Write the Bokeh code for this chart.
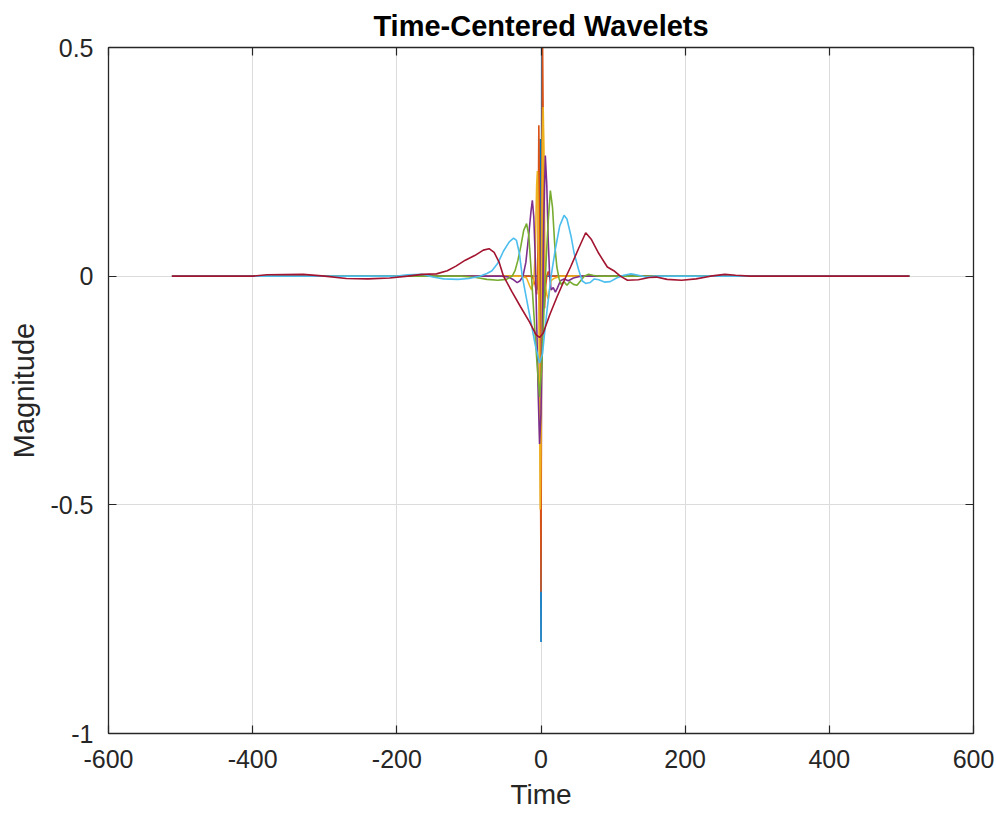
from bokeh.plotting import figure
from bokeh.models import Range1d, LinearAxis, FixedTicker
from bokeh.embed import file_html
from bokeh.resources import INLINE

# ---------------- data ----------------
title_text = "Time-Centered Wavelets"
x_label = "Time"
y_label = "Magnitude"

x_ticks = [-600, -400, -200, 0, 200, 400, 600]
x_tick_labels = ["-600", "-400", "-200", "0", "200", "400", "600"]
y_ticks = [-1, -0.5, 0, 0.5]
y_tick_labels = ["-1", "-0.5", "0", "0.5"]
x_limits = [-600, 600]
y_limits = [-1, 0.5]

# level 1 (finest) ... level 7 (coarsest)
lvl1_t = [-512, -5, -4, -3, -2, -1, 0, 1, 2, 3, 4, 511]
lvl1_v = [0, 0, -0.03, -0.01, 0.10, 0.30, -0.80, 0.50, 0.03, -0.08, 0, 0]

lvl2_t = [-512, -12, -10, -8, -6, -5, -4, -3, -2, -1, 0, 1, 2, 3, 4, 5, 6, 8, 10, 12, 511]
lvl2_v = [0, 0, -0.01, -0.02, -0.04, 0.0, 0.08, 0.33, 0.15, -0.30, -0.69, 0.0, 0.55,
          0.35, 0.05, -0.07, -0.03, 0.0, 0.01, 0, 0]

lvl3_t = [-512, -26, -20, -16, -13, -10, -8, -6, -5, -4, -3, -2, -1, 0, 1, 2, 3, 4, 5,
          6, 8, 10, 12, 14, 18, 26, 511]
lvl3_v = [0, 0, -0.004, -0.02, -0.03, -0.01, 0.05, 0.20, 0.23, 0.15, -0.05, -0.30,
          -0.51, -0.35, 0.0, 0.30, 0.37, 0.28, 0.10, -0.02, -0.04, -0.05, -0.03,
          -0.01, -0.005, 0, 0]

lvl4_t = [-512, -55, -45, -38, -33, -29, -25, -21, -17, -14, -12, -10, -8, -6, -4, -2,
          0, 2, 4, 6, 8, 10, 12, 14, 17, 20, 23, 27, 32, 38, 45, 55, 511]
lvl4_v = [0, 0, -0.002, -0.008, -0.014, -0.01, 0.0, 0.03, 0.09, 0.14, 0.166, 0.13,
          0.04, -0.10, -0.25, -0.367, -0.30, -0.10, 0.13, 0.264, 0.20, 0.08, 0.0,
          -0.03, -0.025, -0.035, -0.025, -0.01, -0.006, -0.01, -0.004, 0.0, 0]

lvl5_t = [-512, -110, -90, -75, -60, -48, -40, -36, -32, -28, -24, -20, -17, -14, -10,
          -6, -2, 1, 4, 7, 10, 13, 16, 19, 22, 25, 28, 32, 36, 40, 45, 50, 55, 60,
          66, 72, 80, 511]
lvl5_v = [0, 0, -0.003, -0.007, -0.009, -0.007, 0.0, 0.012, 0.035, 0.065, 0.10, 0.115,
          0.09, 0.02, -0.08, -0.18, -0.264, -0.20, -0.08, 0.03, 0.12, 0.187, 0.15,
          0.07, 0.02, -0.005, -0.018, -0.012, -0.02, -0.012, -0.018, -0.02, -0.01,
          0.0, 0.004, 0.002, 0.0, 0]

lvl6_t = [-512, -200, -185, -165, -150, -135, -115, -100, -85, -75, -68, -60, -52, -44,
          -38, -34, -30, -26, -20, -14, -8, -2, 2, 8, 14, 20, 26, 32, 36, 42, 46, 52,
          57, 62, 68, 74, 80, 88, 96, 105, 115, 125, 135, 145, 160, 511]
lvl6_v = [0, 0, 0.003, 0.004, -0.002, -0.006, -0.007, -0.005, 0.0, 0.006, 0.012, 0.028,
          0.055, 0.075, 0.083, 0.078, 0.05, 0.0, -0.05, -0.10, -0.15, -0.19, -0.17,
          -0.08, 0.0, 0.06, 0.11, 0.133, 0.125, 0.085, 0.05, 0.015, -0.01, -0.016,
          -0.014, -0.006, -0.008, -0.013, -0.012, -0.004, 0.002, 0.005, 0.002, -0.002,
          0.0, 0]

lvl7_t = [-512, -400, -380, -330, -300, -270, -240, -210, -185, -165, -145, -130, -118,
          -105, -92, -80, -72, -65, -58, -52, -40, -28, -16, -7, -2, 3, 12, 22, 32, 41,
          52, 62, 70, 80, 92, 101, 110, 120, 135, 150, 160, 175, 195, 215, 235, 255,
          270, 290, 511]
lvl7_v = [0, 0, 0.003, 0.004, 0.0, -0.005, -0.006, -0.004, 0.0, 0.004, 0.005, 0.012,
          0.022, 0.035, 0.045, 0.057, 0.060, 0.052, 0.030, 0.0, -0.035, -0.068, -0.10,
          -0.128, -0.134, -0.125, -0.085, -0.046, -0.01, 0.02, 0.06, 0.095, 0.08, 0.05,
          0.02, 0.012, 0.0, -0.009, -0.008, -0.003, -0.002, -0.007, -0.009, -0.006,
          0.0, 0.004, 0.002, 0.0, 0]

series_t = [lvl1_t, lvl2_t, lvl3_t, lvl4_t, lvl5_t, lvl6_t, lvl7_t]
series_v = [lvl1_v, lvl2_v, lvl3_v, lvl4_v, lvl5_v, lvl6_v, lvl7_v]

# ---------------- styles / layout ----------------
colors = ["#0072BD", "#D95319", "#EDB120", "#7E2F8E", "#77AC30", "#4DBEEE", "#A2142F"]
FONT = "Liberation Sans"
AX = "#262626"

W, H = 994, 813
BL, BT = 108, 47
BR, BB = W - 973, H - 733

p = figure(width=W, height=H, output_backend="svg", toolbar_location=None,
           x_range=Range1d(*x_limits), y_range=Range1d(*y_limits),
           min_border_left=BL, min_border_right=BR, min_border_top=BT,
           min_border_bottom=BB, background_fill_color="white",
           border_fill_color="white")

p.title.text = title_text
p.title.align = "center"
p.title.text_font = FONT
p.title.text_font_size = "29px"
p.title.text_font_style = "bold"
p.title.text_color = "#000000"
p.title.standoff = 12

for t, v, c in zip(series_t, series_v, colors):
    p.line(t, v, line_color=c, line_width=1.6)

xt = FixedTicker(ticks=x_ticks)
yt = FixedTicker(ticks=y_ticks)
xo = {k: s for k, s in zip(x_ticks, x_tick_labels)}
yo = {k: s for k, s in zip(y_ticks, y_tick_labels)}


def style_axis(ax, show_labels):
    ax.axis_line_color = AX
    ax.axis_line_width = 1.3
    ax.major_tick_line_color = AX
    ax.major_tick_line_width = 1.2
    ax.major_tick_in = 8
    ax.major_tick_out = 0
    ax.minor_tick_line_color = None
    if show_labels:
        ax.major_label_text_font = FONT
        ax.major_label_text_font_size = "25px"
        ax.major_label_text_color = AX
        ax.axis_label_text_font = FONT
        ax.axis_label_text_font_style = "normal"
        ax.axis_label_text_color = AX
    else:
        ax.major_label_text_font_size = "0px"
        ax.major_label_text_color = None
        ax.major_label_standoff = 0


xa = p.xaxis[0]
xa.ticker = xt
xa.major_label_overrides = xo
style_axis(xa, True)
xa.axis_label = x_label
xa.axis_label_text_font_size = "28px"
xa.major_label_standoff = 16
xa.axis_label_standoff = 8

ya = p.yaxis[0]
ya.ticker = yt
ya.major_label_overrides = yo
style_axis(ya, True)
ya.axis_label = y_label
ya.axis_label_text_font_size = "29px"
ya.major_label_standoff = 15
ya.axis_label_standoff = 7

top = LinearAxis(ticker=xt)
style_axis(top, False)
p.add_layout(top, "above")
right = LinearAxis(ticker=yt)
style_axis(right, False)
p.add_layout(right, "right")

for g, tk in ((p.xgrid[0], xt), (p.ygrid[0], yt)):
    g.ticker = tk
    g.grid_line_color = "#DCDCDC"
    g.grid_line_width = 1

p.outline_line_color = AX

open("out.html", "w").write(file_html(p, INLINE))
